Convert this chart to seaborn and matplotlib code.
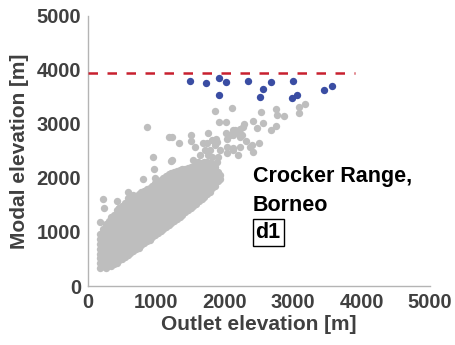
import matplotlib
matplotlib.use("Agg")
import matplotlib.pyplot as plt
import seaborn as sns
import pandas as pd

# ---- data ----
# dense gray band, written column by column (outlet elevation -> modal elevations)
band_outlet = [180, 220, 260, 300, 340, 380, 420, 460, 500, 540, 580, 620, 660, 700,
               740, 780, 820, 860, 900, 940, 980, 1020, 1060, 1100, 1140, 1180, 1220,
               1260, 1300, 1340, 1380, 1420, 1460, 1500, 1540, 1580, 1620, 1660, 1700,
               1740, 1780, 1820, 1860, 1895, 1930]
band_modal = [
    [330, 420, 510, 600, 690, 780, 870, 960],
    [375, 465, 555, 645, 735, 825, 915, 1005, 1060],
    [340, 430, 520, 610, 700, 790, 880, 970, 1060, 1150],
    [385, 475, 565, 655, 745, 835, 925, 1015, 1105, 1195],
    [370, 460, 550, 640, 730, 820, 910, 1000, 1090, 1180, 1270],
    [415, 505, 595, 685, 775, 865, 955, 1045, 1135, 1225, 1315],
    [430, 520, 610, 700, 790, 880, 970, 1060, 1150, 1240, 1330, 1400],
    [475, 565, 655, 745, 835, 925, 1015, 1105, 1195, 1285, 1375, 1445],
    [500, 590, 680, 770, 860, 950, 1040, 1130, 1220, 1310, 1400, 1490],
    [545, 635, 725, 815, 905, 995, 1085, 1175, 1265, 1355, 1445, 1535],
    [570, 660, 750, 840, 930, 1020, 1110, 1200, 1290, 1380, 1470, 1560, 1620],
    [615, 705, 795, 885, 975, 1065, 1155, 1245, 1335, 1425, 1515, 1605, 1655],
    [640, 730, 820, 910, 1000, 1090, 1180, 1270, 1360, 1450, 1540, 1630, 1690],
    [685, 775, 865, 955, 1045, 1135, 1225, 1315, 1405, 1495, 1585, 1675],
    [710, 800, 890, 980, 1070, 1160, 1250, 1340, 1430, 1520, 1610, 1700],
    [755, 845, 935, 1025, 1115, 1205, 1295, 1385, 1475, 1565, 1655, 1735],
    [790, 880, 970, 1060, 1150, 1240, 1330, 1420, 1510, 1600, 1690, 1760],
    [835, 925, 1015, 1105, 1195, 1285, 1375, 1465, 1555, 1645, 1735, 1790],
    [860, 950, 1040, 1130, 1220, 1310, 1400, 1490, 1580, 1670, 1760, 1820],
    [905, 995, 1085, 1175, 1265, 1355, 1445, 1535, 1625, 1715, 1805, 1860],
    [940, 1030, 1120, 1210, 1300, 1390, 1480, 1570, 1660, 1750, 1840, 1900],
    [985, 1075, 1165, 1255, 1345, 1435, 1525, 1615, 1705, 1795, 1885, 1935],
    [1010, 1100, 1190, 1280, 1370, 1460, 1550, 1640, 1730, 1820, 1910, 1970],
    [1055, 1145, 1235, 1325, 1415, 1505, 1595, 1685, 1775, 1865, 1955, 2005],
    [1090, 1180, 1270, 1360, 1450, 1540, 1630, 1720, 1810, 1900, 1990, 2040],
    [1135, 1225, 1315, 1405, 1495, 1585, 1675, 1765, 1855, 1945, 2035, 2065],
    [1160, 1250, 1340, 1430, 1520, 1610, 1700, 1790, 1880, 1970, 2060, 2090],
    [1205, 1295, 1385, 1475, 1565, 1655, 1745, 1835, 1925, 2015, 2105],
    [1240, 1330, 1420, 1510, 1600, 1690, 1780, 1870, 1960, 2050, 2130],
    [1285, 1375, 1465, 1555, 1645, 1735, 1825, 1915, 2005, 2095, 2145],
    [1320, 1410, 1500, 1590, 1680, 1770, 1860, 1950, 2040, 2130, 2170],
    [1365, 1455, 1545, 1635, 1725, 1815, 1905, 1995, 2085, 2165],
    [1400, 1490, 1580, 1670, 1760, 1850, 1940, 2030, 2120, 2180],
    [1445, 1535, 1625, 1715, 1805, 1895, 1985, 2075, 2165, 2200],
    [1480, 1570, 1660, 1750, 1840, 1930, 2020, 2110, 2210],
    [1525, 1615, 1705, 1795, 1885, 1975, 2065, 2155, 2235],
    [1570, 1660, 1750, 1840, 1930, 2020, 2110, 2200, 2260],
    [1615, 1705, 1795, 1885, 1975, 2065, 2155, 2245, 2280],
    [1650, 1740, 1830, 1920, 2010, 2100, 2190, 2290],
    [1705, 1795, 1885, 1975, 2065, 2155, 2245, 2290],
    [1740, 1830, 1920, 2010, 2100, 2190, 2280],
    [1805, 1895, 1985, 2075, 2165, 2250],
    [1850, 1940, 2030, 2120, 2210],
    [1935, 2025, 2115],
    [1980, 2060],
]

# scattered gray basins above the band
scatter_outlet = [867, 1190, 1225, 1330, 955, 1213, 965, 809, 833, 580, 224, 419, 238, 458, 175,
                  1861, 2100, 2529, 2744, 2758, 2865, 3085, 3173, 3085,
                  1910, 2018, 2417, 2475, 2563, 2670, 2744, 2285, 2222, 2139,
                  1506, 1501, 1759, 1871, 2018, 2037, 2154, 2203, 2310, 2222, 2402, 2505,
                  1735, 1881, 2125, 2256, 2368, 2417, 2222, 2125, 2028, 1930,
                  1808, 1857, 1711, 1759, 1905, 2028, 2125, 2198, 2076, 2125, 2271,
                  1223, 980, 1613, 1808, 1881, 1564, 1686, 1857, 1784, 1637, 1540]
scatter_modal = [2939, 2754, 2754, 2642, 2383, 2320, 2161, 1976, 1753, 1741, 1606, 1574, 1450, 1450, 1191,
                 3246, 3302, 3222, 3278, 3167, 3148, 3320, 3364, 3210,
                 3037, 3037, 3050, 2926, 3012, 2889, 2963, 3000, 2901, 2876,
                 2790, 2679, 2827, 2728, 2840, 2728, 2889, 2815, 2679, 2754, 2617, 2642,
                 2642, 2673, 2796, 2796, 2580, 2487, 2580, 2519, 2580, 2519,
                 2704, 2611, 2519, 2426, 2395, 2457, 2550, 2426, 2796, 2889, 2950,
                 2333, 1994, 2302, 2395, 2302, 2580, 2642, 2642, 2519, 2426, 2333]

# highlighted (blue) basins
blue_outlet = [1491, 1725, 1915, 2012, 2334, 2675, 2554, 2510, 1920, 2997, 3050, 2986, 3450, 3567]
blue_modal = [3796, 3759, 3852, 3778, 3796, 3772, 3642, 3494, 3537, 3796, 3543, 3481, 3630, 3704]

# reference level (dashed red)
ref_level = 3940
ref_x = [0, 3900]

x_ticks = [0, 1000, 2000, 3000, 4000, 5000]
y_ticks = [0, 1000, 2000, 3000, 4000, 5000]

label_lines = ["Crocker Range,", "Borneo"]
panel_tag = "d1"

# ---- build tables ----
gx, gy = [], []
for xo, ys in zip(band_outlet, band_modal):
    for yv in ys:
        gx.append(xo)
        gy.append(yv)
gx += scatter_outlet
gy += scatter_modal
gray_df = pd.DataFrame({"outlet": gx, "modal": gy})
blue_df = pd.DataFrame({"outlet": blue_outlet, "modal": blue_modal})
ref_df = pd.DataFrame({"outlet": ref_x, "modal": [ref_level, ref_level]})

# ---- plot ----
sns.set_style("white")
plt.rcParams["font.family"] = ["Liberation Sans", "DejaVu Sans"]
plt.rcParams["font.weight"] = "bold"

fig = plt.figure(figsize=(4.56, 3.45), dpi=100)
ax = fig.add_axes([0.193, 0.171, 0.750, 0.783])

gray_c = "#bebebe"
blue_c = "#3a4da3"
red_c = "#c8202f"
spine_c = "#b4b4b4"
txt_c = "#404040"

sns.scatterplot(data=gray_df, x="outlet", y="modal", color=gray_c, s=28,
                linewidth=0, ax=ax, zorder=2)
sns.scatterplot(data=blue_df, x="outlet", y="modal", color=blue_c, s=28,
                linewidth=0, ax=ax, zorder=3)
sns.lineplot(data=ref_df, x="outlet", y="modal", color=red_c, linewidth=1.8,
             ax=ax, zorder=4)
ax.lines[-1].set_dashes((3.8, 3.8))

ax.set_xlim(0, 5000)
ax.set_ylim(0, 5000)
ax.set_xticks(x_ticks)
ax.set_yticks(y_ticks)
ax.set_xticklabels([str(t) for t in x_ticks])
ax.set_yticklabels([str(t) for t in y_ticks])

for side in ["top", "right"]:
    ax.spines[side].set_visible(False)
for side in ["left", "bottom"]:
    ax.spines[side].set_color(spine_c)
    ax.spines[side].set_linewidth(1.0)

ax.tick_params(axis="both", direction="in", length=3.5, width=0.8, color=spine_c,
               labelsize=14.5, labelcolor=txt_c, pad=5)
for lab in ax.get_xticklabels() + ax.get_yticklabels():
    lab.set_fontweight("bold")

ax.set_xlabel("Outlet elevation [m]", fontsize=15, fontweight="bold", color=txt_c, labelpad=2)
ax.set_ylabel("Modal elevation [m]", fontsize=15, fontweight="bold", color=txt_c, labelpad=5)

ax.text(2412, 1926, label_lines[0], fontsize=15.5, fontweight="bold", color="black",
        ha="left", va="baseline", zorder=5)
ax.text(2412, 1389, label_lines[1], fontsize=15.5, fontweight="bold", color="black",
        ha="left", va="baseline", zorder=5)
ax.text(2450, 880, panel_tag, fontsize=15.5, fontweight="bold", color="black",
        ha="left", va="baseline", zorder=5,
        bbox=dict(boxstyle="square,pad=0.14", facecolor="white", edgecolor="black", linewidth=1.0))

ax.grid(False)
fig.savefig("out.png", dpi=100)
